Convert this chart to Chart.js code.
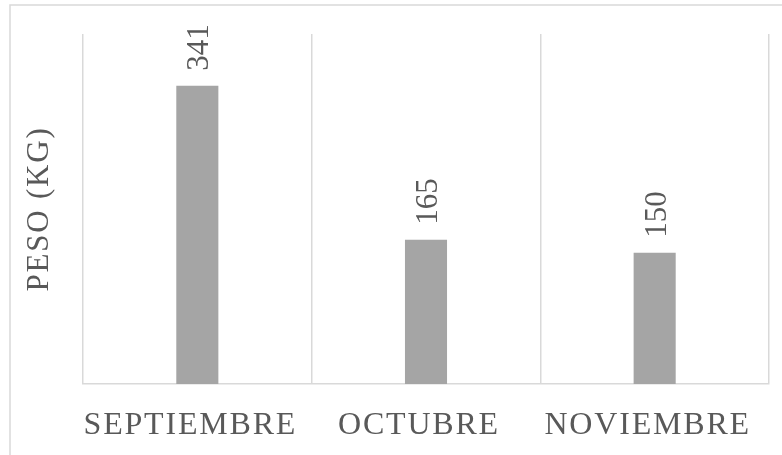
<!DOCTYPE html>
<html>
<head>
<meta charset="utf-8">
<script src="https://cdn.jsdelivr.net/npm/chart.js@4/dist/chart.umd.min.js"></script>
<style>
  html, body { margin: 0; padding: 0; background: #ffffff; }
  #wrap { width: 782px; height: 455px; position: relative; }
</style>
</head>
<body>
<div id="wrap"><canvas id="c" width="782" height="455"></canvas></div>
<script>
const categories = ["SEPTIEMBRE", "OCTUBRE", "NOVIEMBRE"];
const pesoValues = [341, 165, 150];
const valueLabels = ["341", "165", "150"];
const yAxisTitle = "PESO (KG)";
const yMin = 0;
const yMax = 400;

const textColor = "#595959";
const lineColor = "#d9d9d9";
const fontFamily = "'Liberation Serif', 'Times New Roman', serif";

const spacingPlugin = {
  id: "spacing",
  beforeDraw(chart) {
    const ctx = chart.ctx;
    ctx.save();
    ctx.fillStyle = "#ffffff";
    ctx.fillRect(0, 0, chart.width, chart.height);
    ctx.strokeStyle = lineColor;
    ctx.lineWidth = 1.5;
    ctx.strokeRect(10, 5, chart.width + 20, chart.height + 20);
    ctx.restore();
    ctx.letterSpacing = "1.8px";
  }
};

const valueLabelPlugin = {
  id: "valueLabels",
  afterDatasetsDraw(chart) {
    const ctx = chart.ctx;
    const meta = chart.getDatasetMeta(0);
    ctx.save();
    ctx.letterSpacing = "0px";
    ctx.font = "31px " + fontFamily;
    ctx.fillStyle = textColor;
    ctx.textAlign = "left";
    ctx.textBaseline = "middle";
    meta.data.forEach((bar, i) => {
      ctx.save();
      ctx.translate(bar.x + 3, bar.y - 15);
      ctx.rotate(-Math.PI / 2);
      ctx.fillText(valueLabels[i], 0, 0);
      ctx.restore();
    });
    ctx.restore();
  }
};

new Chart(document.getElementById("c"), {
  type: "bar",
  data: {
    labels: categories,
    datasets: [{
      label: yAxisTitle,
      data: pesoValues,
      backgroundColor: "#a5a5a5",
      borderWidth: 0,
      barPercentage: 0.184,
      categoryPercentage: 1.0
    }]
  },
  options: {
    responsive: false,
    animation: false,
    devicePixelRatio: 1,
    layout: { padding: { top: 34, right: 13, left: 0, bottom: 0 } },
    plugins: {
      legend: { display: false },
      tooltip: { enabled: false }
    },
    scales: {
      x: {
        offset: true,
        grid: {
          display: true,
          offset: true,
          color: lineColor,
          lineWidth: 1.5,
          drawTicks: false
        },
        border: { display: true, color: lineColor, width: 1.5 },
        ticks: {
          color: textColor,
          font: { family: fontFamily, size: 32 },
          padding: 22,
          labelOffset: -7,
          maxRotation: 0,
          autoSkip: false
        },
        afterFit(scale) { scale.height = 71; }
      },
      y: {
        min: yMin,
        max: yMax,
        grid: { display: false, drawTicks: false },
        border: { display: false },
        ticks: { display: false },
        title: {
          display: true,
          text: yAxisTitle,
          color: textColor,
          font: { family: fontFamily, size: 31 },
          padding: { top: 21, bottom: 0 }
        },
        afterFit(scale) { scale.width = 83; }
      }
    }
  },
  plugins: [spacingPlugin, valueLabelPlugin]
});
</script>
</body>
</html>
